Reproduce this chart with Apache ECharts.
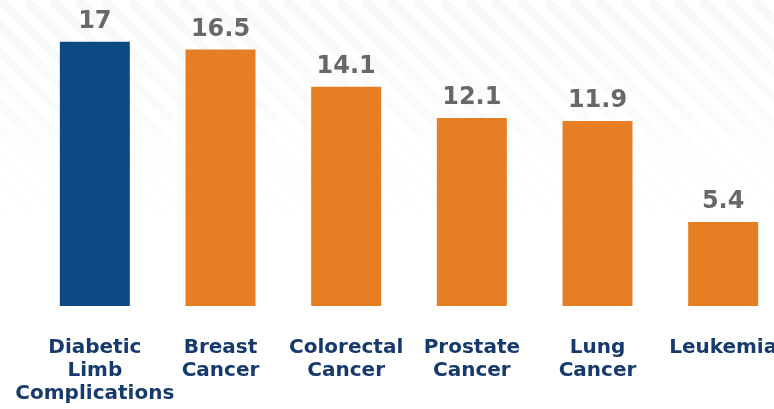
<!DOCTYPE html>
<html>
<head>
<meta charset="utf-8">
<script src="https://cdn.jsdelivr.net/npm/echarts@6/dist/echarts.min.js"></script>
<style>
  html, body { margin: 0; padding: 0; background: #ffffff; }
  #chart { width: 774px; height: 409px; }
</style>
</head>
<body>
<div id="chart"></div>
<script>
// Categories and values
const categories = [
  'Diabetic\nLimb\nComplications',
  'Breast\nCancer',
  'Colorectal\nCancer',
  'Prostate\nCancer',
  'Lung\nCancer',
  'Leukemia'
];
const values = [17, 16.5, 14.1, 12.1, 11.9, 5.4];
const highlightIndex = 0;

const NAVY = '#0d4a84';
const ORANGE = '#e67e24';

// Faint diagonal background stripes
const stripes = [];
for (let i = -14; i < 30; i++) {
  const x0 = i * 26;
  stripes.push({
    type: 'line',
    silent: true,
    z: -10,
    shape: { x1: x0, y1: 0, x2: x0 + 220, y2: 220 },
    style: {
      lineWidth: 9,
      stroke: {
        type: 'linear', x: 0, y: 0, x2: 1, y2: 1,
        colorStops: [
          { offset: 0, color: 'rgba(228,228,232,0.28)' },
          { offset: 1, color: 'rgba(228,228,232,0)' }
        ]
      }
    }
  });
}

const chart = echarts.init(document.getElementById('chart'), null, { renderer: 'canvas' });
chart.setOption({
  backgroundColor: '#ffffff',
  animation: false,
  graphic: stripes,
  grid: { left: 32, top: 6, width: 754, height: 300, outerBoundsMode: 'none' },
  xAxis: {
    type: 'category',
    data: categories,
    axisLine: { show: false },
    axisTick: { show: false },
    axisLabel: {
      interval: 0,
      margin: 30,
      color: '#173a6c',
      fontFamily: 'DejaVu Sans',
      fontWeight: 'bold',
      fontSize: 20,
      lineHeight: 23,
      align: 'center'
    }
  },
  yAxis: {
    type: 'value',
    min: 0,
    max: 19.3,
    show: false,
    splitLine: { show: false }
  },
  series: [{
    type: 'bar',
    barWidth: 70,
    data: values.map((v, i) => ({
      value: v,
      itemStyle: { color: i === highlightIndex ? NAVY : ORANGE }
    })),
    label: {
      show: true,
      position: 'top',
      distance: 8,
      color: '#686868',
      fontFamily: 'DejaVu Sans',
      fontWeight: 'bold',
      fontSize: 24,
      lineHeight: 24
    }
  }]
});
</script>
</body>
</html>
